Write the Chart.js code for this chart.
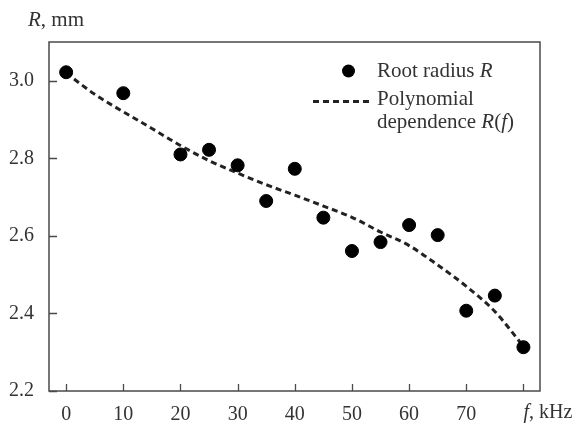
<!DOCTYPE html>
<html>
<head>
<meta charset="utf-8">
<script src="https://cdn.jsdelivr.net/npm/chart.js@4/dist/chart.umd.min.js"></script>
<style>
  html, body { margin: 0; padding: 0; background: #ffffff; }
  #wrap { width: 576px; height: 427px; position: relative; }
</style>
</head>
<body>
<div id="wrap"><canvas id="c" width="576" height="427"></canvas></div>
<script>
// ---- data ----
const freqKHz = [0, 10, 20, 25, 30, 35, 40, 45, 50, 55, 60, 65, 70, 75, 80];
const rootRadius = [3.022, 2.968, 2.81, 2.822, 2.782, 2.69, 2.773, 2.647, 2.561, 2.584, 2.628, 2.602, 2.407, 2.446, 2.313];
const fitFreq = [0, 5, 10, 15, 20, 25, 30, 35, 40, 45, 50, 55, 60, 65, 70, 75, 80];
const fitRadius = [3.02, 2.965, 2.92, 2.877, 2.833, 2.794, 2.762, 2.732, 2.705, 2.677, 2.648, 2.61, 2.575, 2.525, 2.47, 2.405, 2.315];
const xTickValues = [0, 10, 20, 30, 40, 50, 60, 70, 80];
const yTickValues = [2.2, 2.4, 2.6, 2.8, 3.0];
const seriesNames = ['Root radius R', 'Polynomial dependence R(f)'];

const FONT = "'Liberation Serif', 'Times New Roman', serif";
const TXT = '#333333';
const FRAME = '#4a4a4a';

function pts(xs, ys) { return xs.map((x, i) => ({ x: x, y: ys[i] })); }

// draw a run of text pieces, some italic
function drawRich(ctx, x, y, pieces, size) {
  ctx.save();
  ctx.textBaseline = 'middle';
  ctx.textAlign = 'left';
  ctx.fillStyle = TXT;
  let cx = x;
  pieces.forEach(p => {
    ctx.font = (p.i ? 'italic ' : '') + size + 'px ' + FONT;
    ctx.fillText(p.t, cx, y);
    cx += ctx.measureText(p.t).width;
  });
  ctx.restore();
}

const decor = {
  id: 'decor',
  beforeDatasetsDraw(chart) {
    const ctx = chart.ctx, a = chart.chartArea;
    const xs = chart.scales.x, ys = chart.scales.y;
    ctx.save();
    ctx.strokeStyle = FRAME;
    ctx.lineWidth = 1.5;
    ctx.strokeRect(a.left, a.top, a.right - a.left, a.bottom - a.top);
    ctx.lineWidth = 1.3;
    ctx.beginPath();
    xTickValues.forEach(v => {
      const px = Math.round(xs.getPixelForValue(v)) + 0.5;
      ctx.moveTo(px, a.bottom);
      ctx.lineTo(px, a.bottom - 7);
    });
    yTickValues.forEach(v => {
      const py = Math.round(ys.getPixelForValue(v)) + 0.5;
      ctx.moveTo(a.left, py);
      ctx.lineTo(a.left + 8, py);
    });
    ctx.stroke();
    ctx.restore();
  },
  afterDraw(chart) {
    const ctx = chart.ctx;
    // axis titles
    drawRich(ctx, 28, 20, [{ t: 'R', i: true }, { t: ', mm' }], 21);
    const x80 = chart.scales.x.getPixelForValue(80);
    drawRich(ctx, x80, 413, [{ t: 'f', i: true }, { t: ', kHz' }], 20);
    // legend
    ctx.save();
    ctx.fillStyle = '#000';
    ctx.beginPath();
    ctx.arc(348.5, 71, 6.5, 0, Math.PI * 2);
    ctx.fill();
    ctx.strokeStyle = '#222';
    ctx.lineWidth = 3;
    ctx.setLineDash([6, 4]);
    ctx.beginPath();
    ctx.moveTo(313, 101.5);
    ctx.lineTo(371, 101.5);
    ctx.stroke();
    ctx.restore();
    drawRich(ctx, 377, 71, [{ t: 'Root radius ' }, { t: 'R', i: true }], 21);
    drawRich(ctx, 377, 99, [{ t: 'Polynomial' }], 21);
    drawRich(ctx, 377, 122, [{ t: 'dependence ' }, { t: 'R', i: true }, { t: '(' }, { t: 'f', i: true }, { t: ')' }], 21);
  }
};

new Chart(document.getElementById('c'), {
  type: 'scatter',
  data: {
    datasets: [
      {
        label: seriesNames[0],
        data: pts(freqKHz, rootRadius),
        backgroundColor: '#000000',
        borderColor: '#000000',
        pointRadius: 6.5,
        pointHoverRadius: 6.5,
        showLine: false,
        order: 0
      },
      {
        label: seriesNames[1],
        data: pts(fitFreq, fitRadius),
        showLine: true,
        borderColor: '#222222',
        borderWidth: 3,
        borderDash: [6, 4],
        pointRadius: 0,
        cubicInterpolationMode: 'monotone',
        fill: false,
        order: 1
      }
    ]
  },
  options: {
    responsive: false,
    animation: false,
    devicePixelRatio: 1,
    layout: { padding: { left: 0, right: 36, top: 42, bottom: 0 } },
    plugins: { legend: { display: false }, tooltip: { enabled: false } },
    scales: {
      x: {
        type: 'linear',
        min: -3,
        max: 82.9,
        afterBuildTicks: s => { s.ticks = xTickValues.map(v => ({ value: v })); },
        afterFit: s => { s.height = 36; },
        grid: { display: false, drawTicks: false },
        border: { display: false },
        ticks: {
          padding: 12,
          color: TXT,
          font: { family: FONT, size: 20 },
          callback: v => (v === 80 ? '' : String(v))
        }
      },
      y: {
        type: 'linear',
        min: 2.2,
        max: 3.1,
        afterBuildTicks: s => { s.ticks = yTickValues.map(v => ({ value: v })); },
        afterFit: s => { s.width = 49; },
        grid: { display: false, drawTicks: false },
        border: { display: false },
        ticks: {
          padding: 15,
          color: TXT,
          font: { family: FONT, size: 20 },
          callback: v => Number(v).toFixed(1)
        }
      }
    }
  },
  plugins: [decor]
});
</script>
</body>
</html>
